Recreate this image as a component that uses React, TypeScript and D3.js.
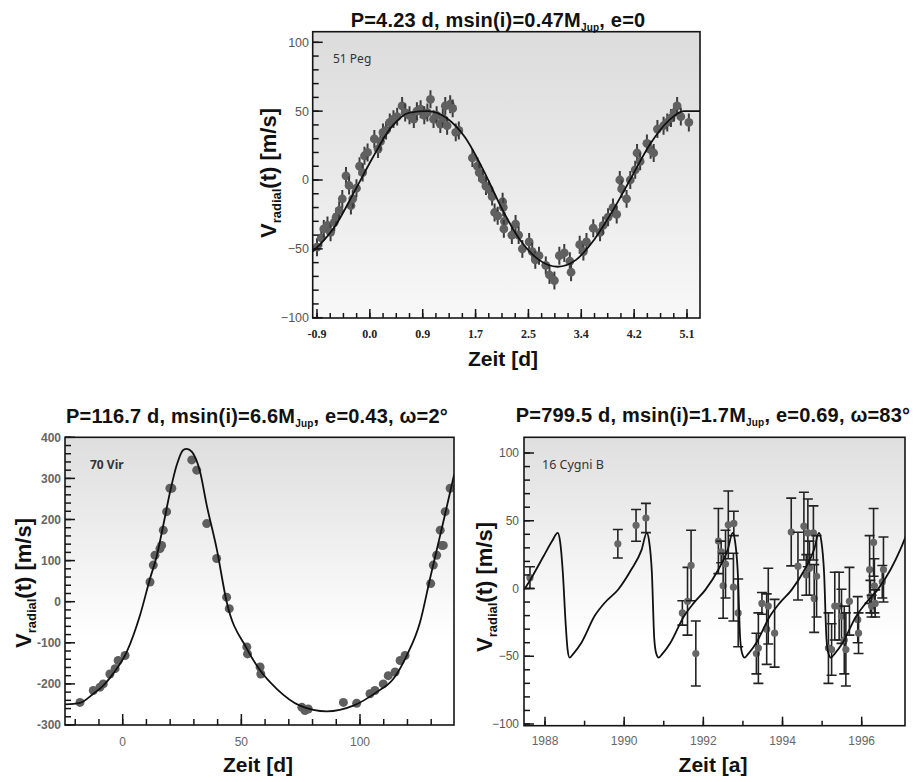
import React from 'react';
import * as d3 from 'd3';

const SANS = "'Liberation Sans', Arial, sans-serif";
const SERIF = "'Liberation Serif', 'Times New Roman', serif";
const SMALL = "'Noto Sans', 'Open Sans', sans-serif";

// ---------- 51 Peg (top) ----------
const pegXLabels = ['-0.9', '0.0', '0.9', '1.7', '2.5', '3.4', '4.2', '5.1'];
const pegYTicks = [-100, -50, 0, 50, 100];
const pegT = [
  -0.9, -0.83, -0.79, -0.73, -0.68, -0.62, -0.59, -0.54, -0.49, -0.43, -0.38, -0.35, -0.32, -0.26, -0.21, -0.16,
  -0.13, -0.08, 0.03, 0.09, 0.13, 0.17, 0.22, 0.28, 0.34, 0.4, 0.48, 0.53, 0.6, 0.67, 0.72, 0.78, 0.84, 0.89,
  0.94, 0.99, 1.04, 1.1, 1.14, 1.18, 1.21, 1.26, 1.3, 1.35, 1.4, 1.62, 1.7, 1.73, 1.79, 1.84, 1.89, 1.94, 1.98,
  2.03, 2.11, 2.12, 2.14, 2.13, 2.26, 2.32, 2.37, 2.43, 2.54, 2.59, 2.64, 2.7, 2.81, 2.87, 2.95, 3.03, 3.11, 3.2,
  3.22, 3.36, 3.42, 3.47, 3.58, 3.69, 3.74, 3.82, 3.9, 3.96, 4.01, 4.04, 4.12, 4.18, 4.26, 4.29, 4.34, 4.45, 4.51,
  4.56, 4.62, 4.72, 4.78, 4.84, 4.89, 4.94, 5.0, 5.13,
];
const pegV = [
  -48.8, -42, -35.5, -33, -38, -30.7, -27, -22, -13.7, 3, -4, -18.6, -13.7, -6, 10, 5.4,
  17.6, 20, 29.8, 22.5, 28, 34.6, 36, 41.8, 44.2, 46, 53.8, 49, 47, 44.2, 50, 51.4, 47, 49,
  58.6, 44.2, 47, 40.6, 45, 53.8, 39.4, 55, 52, 34.6, 36, 16, 10, 5.4, 0.5, -4.4, -6.8, -12, -23.6,
  -26, -15.8, -19.8, -30, -35.5, -40, -32, -40, -50, -45, -52, -58, -55, -62, -69, -73, -55, -53, -59,
  -67, -47, -52, -45, -35, -38, -33, -27, -20, -25, 0, -6.5, -13.7, 0, 7.4, 19.6, 13.5, 26.6, 22,
  19.6, 37, 39.4, 41.8, 45, 49, 53.8, 46, 41.8,
];
const pegFitT = [-0.97, -0.9, -0.6, -0.3, 0.0, 0.3, 0.6, 0.9, 1.2, 1.5, 1.8, 2.1, 2.4, 2.7, 3.0, 3.3, 3.6, 3.9, 4.2, 4.5, 4.8, 5.05, 5.35];
const pegFitV = [-52, -49, -33, -9, 16, 38, 49, 50, 45, 31, 7, -21, -44, -58, -63, -58, -43, -22, 2, 26, 43, 50, 50];

// ---------- 70 Vir (bottom left) ----------
const virXTicks = [0, 50, 100];
const virYTicks = [-300, -200, -100, 0, 100, 200, 300, 400];
const virT = [
  -18, -12.4, -9.6, -8.2, -5.4, -3.2, -1.9, 1.0, 11.5, 12.9, 13.6, 15.7, 16.4, 17.1, 18.5, 19.9, 20.7, 29.1,
  31.2, 35.4, 39.6, 43.8, 44.9, 52.3, 52.6, 57.9, 58.2, 75.5, 76.8, 78.2, 93, 98.6, 104.2, 106.3, 109.8, 111.9,
  114.8, 116.9, 119, 129.8, 130.9, 132.3, 133.8, 134.5, 135.1, 135.9, 138,
];
const virV = [
  -245, -216, -208, -200, -176, -163, -143, -131, 48, 89, 113, 129, 137, 174, 219, 276, 276, 345,
  320, 190, 105, 11, -17, -110, -127, -159, -176, -257, -265, -261, -245, -247, -224, -216, -200, -180,
  -171, -143, -131, 44, 89, 113, 174, 137, 137, 219, 276,
];
const virFitT = [-24.3, -18, -12.4, -8.2, -4, 1.7, 7.3, 11.5, 14.3, 17.1, 20, 22.8, 25.5, 27, 29.1, 32.6, 35.4, 39.6, 43.8, 52.3, 57.9, 64.9, 74.7, 86, 97.2, 107, 114, 119.7, 125.3, 129.5, 132.3, 135.1, 139.7];
const virFitV = [-250, -246, -224, -204, -175, -122, -33, 56, 110, 186, 268, 333, 369, 372, 365, 316, 235, 129, 0, -114, -167, -212, -253, -267, -253, -220, -188, -131, -50, 56, 125, 194, 310];

// ---------- 16 Cygni B (bottom right) ----------
const cygXTicks = [1988, 1990, 1992, 1994, 1996];
const cygYTicks = [-100, -50, 0, 50, 100];
const cygT = [
  1987.62, 1989.84, 1990.3, 1990.55, 1991.47, 1991.6, 1991.69, 1991.81, 1992.38, 1992.45, 1992.5, 1992.56,
  1992.63, 1992.77, 1992.76, 1992.88, 1993.34, 1993.39, 1993.48, 1993.6, 1993.64, 1993.8, 1994.22, 1994.39,
  1994.54, 1994.6, 1994.64, 1994.68, 1994.78, 1994.8, 1994.86, 1995.16, 1995.24, 1995.32, 1995.43, 1995.49,
  1995.56, 1995.6, 1995.69, 1995.9, 1995.92, 1996.2, 1996.22, 1996.25, 1996.3, 1996.32, 1996.34, 1996.52, 1996.55,
];
const cygV = [
  8, 33, 46.6, 52, -18, -9.4, 17, -48, 35, 27, 2, 18,
  47, 48, 1, -18, -48, -44, -11, -30, -13, -33, 41.7, 16.5,
  46, 10, 41, 15, 41, -7.4, 9, -44, -45, -13, -13, -20.5,
  -38, -45, -9.4, -23, -33, 14, -6, -13, 34, 2, -11, 5, 14,
];
const cygErr = [
  8, 10.5, 11.7, 10.8, 9, 25, 26, 24, 24, 8, 24, 25,
  25, 9, 25, 25, 15, 26, 8, 26, 28, 25, 25, 25,
  25, 15, 25, 20, 20, 25, 30, 26, 19, 25, 25, 20,
  25, 27, 25, 17, 15, 25, 12, 8, 25, 20, 10, 12, 24,
];
const cygFitT = [
  1987.47, 1987.58, 1987.96, 1988.18, 1988.32, 1988.38, 1988.45, 1988.52, 1988.57, 1988.62, 1988.72, 1988.92,
  1989.26, 1989.51, 1989.85, 1990.18, 1990.44, 1990.57, 1990.63, 1990.7, 1990.76, 1990.81, 1990.87, 1990.97,
  1991.17, 1991.5, 1991.75, 1992.05, 1992.38, 1992.62, 1992.74, 1992.8, 1992.87, 1992.93, 1992.98, 1993.04,
  1993.14, 1993.34, 1993.67, 1993.92, 1994.23, 1994.56, 1994.8, 1994.92, 1994.98, 1995.05, 1995.11, 1995.16,
  1995.22, 1995.32, 1995.52, 1995.85, 1996.1, 1996.4, 1996.73, 1996.98, 1997.12,
];
const cygFitV = [
  -1, 4, 23.6, 35, 41, 35, 12, -25, -45, -51, -48, -40,
  -20, -10.5, -0.7, 14, 28.5, 41, 35, 11.5, -37, -48, -51, -48,
  -40, -21, -11, -1, 14, 29, 41, 35, 11.5, -37, -48, -51,
  -48, -40, -21, -11, -1, 14, 29, 41, 35, 11.5, -37, -48,
  -51, -48, -40, -21, -11, -1, 14, 29, 39,
];

type Box = { l: number; t: number; r: number; b: number };

function Frame({ id, box, stops, children }: { id: string; box: Box; stops: [number, string][]; children?: React.ReactNode }) {
  const w = box.r - box.l;
  const h = box.b - box.t;
  return (
    <g>
      <defs>
        <linearGradient id={id + '-bg'} x1="0" y1="0" x2="0" y2="1">
          {stops.map(([o, c]) => (
            <stop key={o} offset={o} stopColor={c} />
          ))}
        </linearGradient>
        <clipPath id={id + '-clip'}>
          <rect x={box.l} y={box.t} width={w} height={h} />
        </clipPath>
      </defs>
      <rect x={box.l} y={box.t} width={w} height={h} fill={`url(#${id}-bg)`} />
      <g clipPath={`url(#${id}-clip)`}>{children}</g>
      <rect x={box.l} y={box.t} width={w} height={h} fill="none" stroke="#151515" strokeWidth={1.6} />
    </g>
  );
}

// ticks pointing into the plot
const bottomTicks = (xs: number[], y: number, len: number) =>
  xs.map((x, i) => <line key={'bx' + i + len} x1={x} x2={x} y1={y} y2={y - len} stroke="#151515" strokeWidth={1.5} />);
const leftTicks = (ys: number[], x: number, len: number) =>
  ys.map((y, i) => <line key={'ly' + i + len} x1={x} x2={x + len} y1={y} y2={y} stroke="#151515" strokeWidth={1.5} />);

function Title({ x, y, pre, post }: { x: number; y: number; pre: string; post: string }) {
  return (
    <text x={x} y={y} textAnchor="middle" fontFamily={SANS} fontWeight="bold" fontSize={20} fill="#111" letterSpacing={0.2}>
      {pre}
      <tspan fontSize={10} dy={4}>Jup</tspan>
      <tspan dy={-4}>{post}</tspan>
    </text>
  );
}

function YLabel({ x, y }: { x: number; y: number }) {
  return (
    <text transform={`translate(${x},${y}) rotate(-90)`} textAnchor="middle" fontFamily={SANS} fontWeight="bold" fontSize={22} fill="#111">
      V<tspan fontSize={13} dy={5}>radial</tspan>
      <tspan dy={-5}>(t) [m/s]</tspan>
    </text>
  );
}

function XLabel({ x, y, text }: { x: number; y: number; text: string }) {
  return (
    <text x={x} y={y} textAnchor="middle" fontFamily={SANS} fontWeight="bold" fontSize={21} fill="#111">
      {text}
    </text>
  );
}

function PegPanel() {
  const box = { l: 312.7, t: 31.7, r: 700, b: 318 };
  const x = d3.scaleLinear().domain([-0.9, 5.1]).range([317, 687]);
  const y = d3.scaleLinear().domain([-100, 100]).range([317.7, 42.3]);
  const xLab = d3.scalePoint<string>().domain(pegXLabels).range([317, 687]);
  const tickIdx = d3.scaleLinear().domain([0, pegXLabels.length - 1]).range([317, 687]);
  const line = d3
    .line<number>()
    .x((_, i) => x(pegFitT[i]))
    .y((d) => y(d))
    .curve(d3.curveMonotoneX);
  return (
    <g>
      <Frame id="peg" box={box} stops={[[0, '#dcdcdc'], [0.5, '#e9e9e9'], [1, '#f8f8f8']]}>
        {pegT.map((t, i) => (
          <g key={i}>
            <line x1={x(t)} x2={x(t)} y1={y(pegV[i] - 6.5)} y2={y(pegV[i] + 6.5)} stroke="#3c3c3c" strokeWidth={2} />
            <circle cx={x(t)} cy={y(pegV[i])} r={4.4} fill="#606060" />
          </g>
        ))}
        <path d={line(pegFitV) || ''} fill="none" stroke="#111" strokeWidth={1.8} />
      </Frame>
      {bottomTicks(d3.range(0, 7.01, 0.25).map((k) => tickIdx(k)), box.b, 5)}
      {bottomTicks(pegXLabels.map((l) => xLab(l) as number), box.b, 9)}
      {leftTicks(d3.range(-100, 101, 10).map((v) => y(v)), box.l, 6)}
      {leftTicks(pegYTicks.map((v) => y(v)), box.l, 10)}
      {pegXLabels.map((l) => (
        <text key={l} x={xLab(l)} y={338} textAnchor="middle" fontFamily={SERIF} fontWeight="bold" fontSize={12} fill="#222">
          {l}
        </text>
      ))}
      {pegYTicks.map((v) => (
        <text key={v} x={309} y={y(v)} dy="0.35em" textAnchor="end" fontFamily={SANS} fontSize={12.5} fill="#555">
          {String(v).replace('-', '\u2212')}
        </text>
      ))}
      <text x={333} y={63} fontFamily={SMALL} fontSize={12} fill="#333">51 Peg</text>
      <Title x={498} y={26.5} pre="P=4.23 d, msin(i)=0.47M" post=", e=0" />
      <YLabel x={276} y={173} />
      <XLabel x={503} y={366} text="Zeit [d]" />
    </g>
  );
}

function VirPanel() {
  const box = { l: 65, t: 437.3, r: 454, b: 725 };
  const x = d3.scaleLinear().domain([0, 100]).range([122.7, 360]);
  const y = d3.scaleLinear().domain([-300, 400]).range([725, 437.3]);
  const line = d3
    .line<number>()
    .x((_, i) => x(virFitT[i]))
    .y((d) => y(d))
    .curve(d3.curveMonotoneX);
  return (
    <g>
      <Frame id="vir" box={box} stops={[[0, '#dedede'], [0.45, '#f3f3f3'], [0.7, '#ffffff'], [1, '#ffffff']]}>
        {virT.map((t, i) => (
          <circle key={i} cx={x(t)} cy={y(virV[i])} r={4.5} fill="#5e5e5e" />
        ))}
        <path d={line(virFitV) || ''} fill="none" stroke="#111" strokeWidth={1.8} />
      </Frame>
      {bottomTicks(d3.range(-20, 131, 10).map((v) => x(v)), box.b, 6)}
      {bottomTicks(virXTicks.map((v) => x(v)), box.b, 11)}
      {leftTicks(d3.range(-300, 401, 20).map((v) => y(v)), box.l, 6)}
      {leftTicks(virYTicks.map((v) => y(v)), box.l, 10)}
      {virXTicks.map((v) => (
        <text key={v} x={x(v)} y={746} textAnchor="middle" fontFamily={SANS} fontSize={12} fill="#666">
          {v}
        </text>
      ))}
      {virYTicks.map((v) => (
        <text key={v} x={61} y={y(v)} dy="0.35em" textAnchor="end" fontFamily={SANS} fontWeight="bold" fontSize={12} fill="#666">
          {v}
        </text>
      ))}
      <text x={90} y={469} fontFamily={SMALL} fontWeight="bold" fontSize={12} fill="#333">70 Vir</text>
      <Title x={257} y={423} pre="P=116.7 d, msin(i)=6.6M" post=", e=0.43, ω=2°" />
      <YLabel x={31} y={583} />
      <XLabel x={258} y={772} text="Zeit [d]" />
    </g>
  );
}

function CygPanel() {
  const box = { l: 524, t: 437.3, r: 905, b: 725.7 };
  const x = d3.scaleLinear().domain([1988, 1996]).range([545, 861.7]);
  const y = d3.scaleLinear().domain([-100, 100]).range([724, 453]);
  const line = d3
    .line<number>()
    .x((_, i) => x(cygFitT[i]))
    .y((d) => y(d))
    .curve(d3.curveMonotoneX);
  return (
    <g>
      <Frame id="cyg" box={box} stops={[[0, '#dfdfdf'], [0.45, '#f4f4f4'], [0.7, '#ffffff'], [1, '#ffffff']]}>
        {cygT.map((t, i) => {
          const cx = x(t);
          const hi = y(cygV[i] + cygErr[i]);
          const lo = y(cygV[i] - cygErr[i]);
          return (
            <g key={i} stroke="#222" strokeWidth={1.6}>
              <line x1={cx} x2={cx} y1={hi} y2={lo} />
              <line x1={cx - 5} x2={cx + 5} y1={hi} y2={hi} />
              <line x1={cx - 5} x2={cx + 5} y1={lo} y2={lo} />
              <circle cx={cx} cy={y(cygV[i])} r={3.6} fill="#666" stroke="none" />
            </g>
          );
        })}
        <path d={line(cygFitV) || ''} fill="none" stroke="#111" strokeWidth={1.8} />
      </Frame>
      {bottomTicks(d3.range(1988, 1997, 1).map((v) => x(v)), box.b, 5)}
      {bottomTicks(cygXTicks.map((v) => x(v)), box.b, 9)}
      {leftTicks(d3.range(-100, 101, 10).map((v) => y(v)), box.l, 6)}
      {leftTicks(cygYTicks.map((v) => y(v)), box.l, 10)}
      {cygXTicks.map((v) => (
        <text key={v} x={x(v)} y={745} textAnchor="middle" fontFamily={SANS} fontSize={12} fill="#666">
          {v}
        </text>
      ))}
      {cygYTicks.map((v) => (
        <text key={v} x={519} y={y(v)} dy="0.35em" textAnchor="end" fontFamily={SANS} fontSize={12} fill="#555">
          {String(v).replace('-', '\u2212')}
        </text>
      ))}
      <text x={542} y={469} fontFamily={SMALL} fontSize={12.5} fill="#333">16 Cygni B</text>
      <Title x={713} y={421.7} pre="P=799.5 d, msin(i)=1.7M" post=", e=0.69, ω=83°" />
      <YLabel x={492} y={587} />
      <XLabel x={713} y={772} text="Zeit [a]" />
    </g>
  );
}

export default function App() {
  return (
    <svg width={917} height={782} style={{ position: 'absolute', left: 0, top: 0, background: '#fff' }}>
      <rect width={917} height={782} fill="#fff" />
      <PegPanel />
      <VirPanel />
      <CygPanel />
    </svg>
  );
}
